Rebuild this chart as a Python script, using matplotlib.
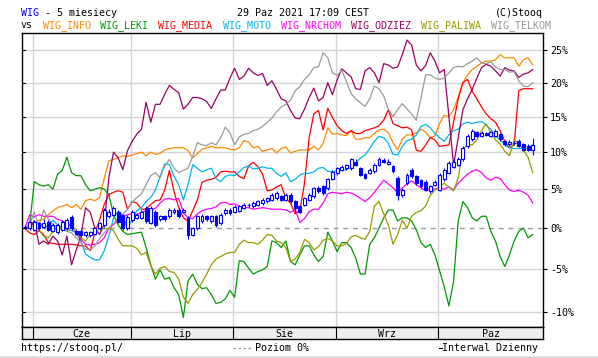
import numpy as np
import matplotlib
matplotlib.use("Agg")
import matplotlib.pyplot as plt
import matplotlib.transforms as mtransforms

# ---- data: % change vs first session, one value per trading day ----
wig_info = [0, 0.3, 0.7, 1.0, 1.1, 1.7, 2.2, 2.6, 2.8, 3.0, 2.6, 3.0, 2.4, 3.5, 3.7, 3.5, 3.9, 6.4, 8.8, 9.0, 9.2, 9.5, 9.4,
            9.6, 9.8, 10.0, 9.5, 10.0, 9.7, 9.8, 10.3, 10.5, 10.6, 10.6, 10.6, 10.2, 9.2, 9.8, 10.4, 10.6, 10.8, 10.6, 10.6, 10.6, 10.4, 10.3,
            10.6, 11.6, 11.4, 10.6, 10.8, 10.1, 10.3, 10.5, 9.9, 10.5, 10.7, 9.9, 10.1, 10.3, 10.3, 10.3, 10.8, 10.3, 11.2, 13.4, 12.5, 12.6, 12.4,
            12.3, 13.0, 11.8, 11.8, 12.0, 12.0, 12.6, 13.1, 13.2, 12.7, 11.3, 10.3, 11.8, 12.4, 12.4, 12.7, 13.2, 12.8, 12.0, 12.3, 14.0, 15.2,
            15.0, 16.0, 17.9, 20.0, 21.2, 22.0, 22.5, 23.0, 23.3, 23.3, 23.5, 24.3, 23.8, 23.8, 23.8, 22.5, 23.5, 23.8, 22.7]
wig_leki = [0, 0.4, 6.0, 5.6, 5.4, 5.6, 5.0, 7.0, 7.5, 9.3, 7.2, 6.8, 6.8, 5.6, 4.8, 5.0, 5.2, 5.0, 4.3, 1.7, 0.4, -0.4, -0.8,
            -0.7, -0.6, -0.5, -2.4, -4.5, -6.2, -5.1, -6.2, -6.0, -7.2, -8.0, -10.6, -6.4, -5.6, -6.8, -7.3, -7.2, -8.0, -9.0, -8.9, -8.5, -7.5, -8.3,
            -4.0, -4.1, -4.9, -5.6, -5.3, -5.1, -4.7, -1.6, -1.8, -2.4, -1.6, -4.1, -4.5, -3.3, -2.2, -2.2, -3.3, -4.1, -3.5, -0.5, -1.6, -2.9, -1.8,
            -1.8, -2.4, -3.7, -5.6, -5.6, -2.0, -1.2, 0, 1.3, 2.3, 2.3, 0.9, 1.3, 1.3, 0.9, -0.2, -1.8, -2.4, -2.0, -3.3, -5.2, -7.1,
            -9.3, -6.5, 0.9, 3.4, 2.6, 1.3, 0.9, 1.5, 1.5, -0.4, -1.6, -3.5, -4.7, -3.3, -1.6, -0.4, 0, -1.2, -0.8]
wig_media = [0, -0.6, -0.8, -0.3, -0.8, -1.8, -1.9, -2.0, -2.0, -2.0, -2.0, -2.1, -2.2, -2.2, -2.8, -0.6, 1.0, 3.0, 4.3, 4.6, 4.8, 4.6, 2.4,
             3.4, 3.2, 2.4, 2.4, 3.0, 3.5, 3.6, 4.9, 7.5, 4.7, 2.6, 1.3, 0.9, 2.2, 3.6, 5.9, 6.2, 6.3, 6.6, 7.3, 7.4, 7.3, 7.3,
             6.7, 6.4, 8.1, 8.6, 8.0, 7.0, 4.8, 4.9, 5.3, 5.6, 3.8, 3.2, 1.8, 2.2, 5.8, 12.0, 15.4, 15.9, 13.1, 16.2, 14.9, 13.7, 13.0,
             12.6, 13.0, 12.6, 12.6, 13.0, 13.2, 13.4, 13.7, 14.5, 16.0, 14.0, 13.7, 13.4, 13.5, 13.1, 10.3, 10.1, 11.0, 12.0, 11.7, 10.8, 10.9,
             11.0, 14.2, 17.6, 20.0, 20.5, 18.7, 17.6, 16.4, 15.4, 14.7, 14.2, 13.0, 11.5, 10.6, 11.0, 18.8, 19.1, 19.1, 19.1]
wig_moto = [0, 0.4, 0.8, 0.6, 0.2, 0.2, 1.0, 0.4, 0.0, -0.2, -0.3, -0.6, -1.6, -3.2, -3.6, -3.9, -3.9, -2.8, -1.0, 1.3, 2.1, 1.6, 0,
            1.1, 2.2, 2.6, 3.4, 3.9, 4.9, 6.7, 8.4, 8.3, 6.7, 5.6, 3.6, 5.6, 8.3, 7.8, 7.3, 7.6, 7.8, 6.4, 6.0, 6.7, 6.9, 6.8,
            7.3, 7.9, 8.1, 7.7, 7.8, 8.0, 7.8, 7.8, 7.1, 6.7, 7.2, 6.0, 6.3, 6.9, 7.1, 7.1, 7.3, 7.8, 7.9, 7.4, 7.3, 7.5, 7.6,
            7.6, 7.9, 8.5, 9.2, 9.6, 10.5, 11.5, 12.2, 12.0, 11.2, 9.7, 9.6, 10.8, 11.6, 11.8, 12.4, 13.6, 13.9, 13.4, 12.6, 12.0, 11.5,
            12.4, 13.0, 13.2, 14.0, 14.2, 14.0, 14.2, 14.3, 13.8, 13.2, 12.2, 11.8, 11.0, 10.6, 10.5, 10.5, 10.5, 10.5, 11.0]
wig_nrchom = [0, 1.7, 1.4, 1.7, 1.5, 1.5, 1.5, 1.1, 0.9, 0.6, 0.2, -0.6, -1.4, -2.0, -2.1, -2.0, -1.8, -1.2, 0, 0.5, 1.1, 1.4, 1.7,
              1.8, 1.7, 2.0, 2.2, 2.3, 2.5, 3.2, 3.7, 3.8, 3.6, 3.8, 2.0, 1.3, 1.2, 1.8, 2.2, 2.4, 2.5, 2.7, 3.2, 3.3, 3.0, 3.1,
              2.8, 2.6, 2.6, 2.4, 2.5, 2.6, 2.5, 2.4, 2.4, 2.4, 2.3, 2.0, 2.4, 0.7, 1.2, 2.1, 2.4, 2.4, 3.2, 4.4, 4.6, 4.5, 4.4,
              4.6, 4.5, 4.2, 3.8, 3.4, 3.9, 4.6, 5.4, 6.2, 5.7, 5.2, 4.5, 5.2, 5.7, 6.1, 5.6, 5.2, 4.8, 5.0, 5.0, 5.2, 5.0,
              5.3, 4.9, 5.8, 6.4, 7.0, 7.4, 7.6, 7.2, 6.5, 6.2, 6.6, 6.4, 5.6, 4.9, 4.7, 4.9, 4.6, 4.2, 3.2]
wig_odziez = [0, 0, 0.9, -2.0, -1.6, -2.0, -1.0, -1.6, -3.3, -1.0, -4.5, -2.7, -1.0, 2.6, 2.0, 0.0, -0.8, 0.5, 6.5, 10.0, 9.2, 7.6, 10.2,
              11.5, 12.5, 13.2, 17.1, 14.2, 16.8, 16.8, 18.3, 19.6, 19.0, 18.5, 16.1, 16.8, 17.8, 17.8, 17.6, 17.2, 16.2, 17.6, 18.9, 18.9, 20.7, 22.2,
              20.5, 21.0, 22.2, 21.5, 21.1, 21.4, 19.6, 20.3, 19.0, 17.6, 17.3, 15.9, 14.8, 14.7, 16.1, 17.8, 19.2, 17.3, 17.8, 20.0, 18.2, 20.4, 22.1,
              21.5, 20.9, 19.1, 19.0, 21.8, 22.3, 21.5, 20.0, 22.9, 22.7, 22.2, 22.4, 24.3, 26.6, 25.8, 22.7, 21.8, 22.6, 24.6, 23.3, 21.5, 22.0,
              15.0, 8.2, 12.0, 16.0, 17.6, 19.0, 20.7, 22.3, 22.8, 22.5, 21.8, 21.0, 22.3, 21.9, 21.8, 20.8, 21.3, 21.5, 22.0]
wig_paliwa = [0, 0.3, 0.2, -0.2, -1.0, -1.2, -0.4, 0.2, 0, -0.2, 0, -0.4, -1.2, -1.6, -0.8, -0.8, 0, -0.1, 0, -0.3, -1.4, -2.2, -2.2,
              -2.2, -2.5, -3.3, -3.0, -4.6, -5.6, -4.9, -4.7, -5.3, -5.4, -6.2, -8.3, -9.0, -8.0, -7.4, -6.6, -5.6, -4.5, -3.8, -3.5, -3.2, -3.0, -3.0,
              -2.0, -1.5, -1.8, -1.8, -2.0, -1.5, -0.8, -0.9, -1.6, -1.8, -2.4, -4.1, -3.8, -3.0, -1.4, -1.8, -2.7, -2.3, -1.5, -1.3, -1.6, -2.2, -2.2,
              -1.9, -1.1, -0.9, -1.2, -1.4, -0.4, 2.8, 3.4, 1.8, 0.4, -2.0, -0.8, 1.0, 0, 1.5, 2.0, 2.2, 2.8, 4.2, 4.9, 5.3, 5.8,
              5.3, 4.8, 6.5, 10.3, 11.1, 11.0, 11.7, 13.0, 14.0, 12.7, 11.7, 11.1, 10.1, 9.5, 11.7, 11.2, 10.3, 9.3, 7.2]
wig_telkom = [0, 0.5, 2.0, 0.3, 2.3, 1.2, 0.4, 0.2, -0.2, -0.4, -0.6, -1.2, -1.8, -2.6, -2.7, -2.2, -1.3, -0.6, 0, 0.4, 1.0, 1.8, 2.4,
              3.3, 3.9, 4.4, 5.6, 6.8, 7.2, 6.5, 8.1, 9.0, 7.8, 7.2, 7.5, 7.8, 9.4, 11.3, 11.0, 10.9, 11.3, 11.0, 12.0, 13.5, 12.7, 11.0,
              12.1, 12.5, 12.6, 13.0, 13.2, 13.6, 14.2, 14.8, 15.7, 16.4, 16.8, 17.4, 18.8, 19.4, 20.5, 21.2, 22.3, 22.4, 24.6, 23.8, 21.5, 21.1, 21.9,
              20.2, 18.4, 17.6, 17.0, 16.5, 17.6, 19.5, 19.1, 18.0, 16.1, 15.0, 16.0, 16.9, 16.1, 15.4, 14.5, 17.7, 21.2, 21.2, 20.7, 20.5, 20.7,
              21.5, 22.3, 22.5, 22.4, 22.9, 23.3, 23.8, 23.0, 22.9, 23.2, 22.4, 22.0, 22.0, 21.6, 21.7, 20.3, 19.5, 19.4, 20.0]

# WIG daily candles (open / close / high / low, % vs start)
wig_open = [0.0, 0.0, -0.2, 0.6, 0.2, 0.8, -0.3, -0.5, -0.2, 0.0, 1.4, -0.3, -0.3, -0.9, -0.9, -0.7, 0.0, 0.4, 1.5, 1.7, 2.1, 1.6, 0.0,
            1.0, 1.3, 1.3, 2.6, 0.7, 2.1, 1.1, 1.5, 1.5, 2.0, 2.3, 2.1, 1.3, -0.8, 0.0, 0.9, 1.5, 0.9, 1.5, 0.6, 1.9, 2.3, 2.1,
            2.2, 2.6, 3.0, 2.8, 3.0, 3.2, 3.4, 3.6, 3.8, 4.1, 3.6, 4.3, 3.4, 2.8, 3.0, 3.6, 4.1, 5.1, 5.4, 5.1, 6.4, 7.1, 7.6,
            7.8, 7.8, 8.7, 7.8, 7.0, 7.2, 7.4, 8.3, 8.9, 8.4, 8.1, 6.5, 4.2, 5.8, 7.6, 6.7, 6.2, 6.0, 4.7, 5.6, 4.9, 6.3,
            7.2, 8.0, 8.3, 9.0, 10.8, 11.8, 12.8, 12.3, 12.6, 12.3, 12.3, 12.5, 11.5, 11.1, 11.3, 11.6, 11.1, 10.9, 10.3]
wig_close = [0.2, 0.8, 0.8, 0.0, 0.7, -0.2, 0.4, 0.4, 0.8, 1.0, 0.0, -0.7, -0.9, -0.5, -0.5, 0.0, 0.6, 2.3, 2.1, 2.5, 0.8, 0.0, 1.4,
             2.1, 1.7, 2.1, 0.9, 2.6, 0.4, 1.5, 1.1, 2.3, 2.3, 1.5, 2.3, -0.8, 0.0, 1.5, 1.5, 1.1, 1.5, 0.4, 1.7, 2.3, 1.9, 2.7,
             2.8, 3.0, 2.9, 3.2, 3.4, 3.6, 3.8, 4.3, 4.5, 3.6, 4.3, 3.4, 2.6, 2.1, 3.8, 4.3, 5.1, 4.7, 4.5, 6.3, 7.3, 7.8, 8.0,
             8.2, 9.0, 8.3, 6.9, 6.5, 7.6, 8.3, 9.0, 8.7, 8.7, 7.4, 4.2, 4.9, 6.9, 6.7, 5.8, 5.4, 4.9, 5.4, 6.0, 6.9, 7.6,
             8.5, 8.6, 9.0, 10.6, 12.3, 13.0, 12.3, 12.7, 12.4, 12.8, 13.0, 11.8, 11.1, 11.4, 11.2, 10.9, 10.3, 10.3, 11.0]
wig_high = [0.4, 1.0, 1.0, 0.8, 1.2, 1.0, 0.6, 0.6, 1.0, 1.3, 1.6, -0.1, -0.1, -0.3, -0.3, 0.2, 0.8, 2.5, 2.4, 2.8, 2.3, 1.8, 1.6,
            2.3, 1.9, 2.3, 2.8, 2.8, 2.3, 1.7, 1.7, 2.5, 2.6, 2.5, 2.6, 1.5, 0.2, 1.7, 1.8, 1.7, 1.7, 1.7, 1.9, 2.5, 2.5, 2.9,
            3.0, 3.2, 3.2, 3.4, 3.6, 3.8, 4.0, 4.5, 4.7, 4.3, 4.5, 4.5, 3.6, 3.0, 4.0, 4.5, 5.3, 5.4, 5.6, 6.5, 7.5, 8.0, 8.2,
            8.4, 9.2, 9.0, 8.0, 7.2, 7.8, 8.5, 9.3, 9.2, 9.0, 8.3, 6.7, 5.1, 7.1, 7.8, 6.9, 6.4, 6.2, 5.6, 6.2, 7.1, 7.8,
            8.8, 9.0, 9.3, 10.8, 12.5, 13.2, 13.0, 12.9, 12.8, 13.0, 13.2, 12.7, 11.7, 11.7, 11.6, 11.8, 11.3, 11.1, 12.0]
wig_low = [-0.1, -0.2, -0.4, -0.2, 0.0, -0.4, -0.5, -0.7, -0.4, -0.2, -0.2, -0.9, -1.1, -1.1, -1.1, -0.9, -0.2, 0.2, 1.3, 1.5, 0.6, -0.2, -0.2,
           0.8, 1.1, 1.1, 0.7, 0.5, 0.2, 0.9, 0.9, 1.3, 1.8, 1.3, 1.9, -1.3, -1.0, -0.2, 0.7, 0.9, 0.7, 0.2, 0.4, 1.7, 1.7, 1.9,
           2.0, 2.4, 2.7, 2.6, 2.8, 3.0, 3.2, 3.4, 3.6, 3.4, 3.4, 3.2, 1.9, 1.9, 2.8, 3.4, 3.9, 4.5, 4.3, 4.9, 6.2, 6.9, 7.4,
           7.6, 7.6, 8.1, 6.7, 6.3, 7.0, 7.2, 8.1, 8.5, 8.2, 7.2, 3.6, 4.0, 5.6, 6.5, 5.6, 5.2, 4.7, 4.5, 5.4, 4.7, 6.1,
           7.0, 7.8, 8.1, 8.8, 10.6, 11.6, 12.1, 12.1, 12.2, 12.1, 12.1, 11.6, 10.9, 10.9, 11.0, 10.7, 10.1, 10.1, 9.6]

series_names = ["WIG_INFO", "WIG_LEKI", "WIG_MEDIA", "WIG_MOTO", "WIG_NRCHOM", "WIG_ODZIEZ", "WIG_PALIWA", "WIG_TELKOM"]
series_vals = [wig_info, wig_leki, wig_media, wig_moto, wig_nrchom, wig_odziez, wig_paliwa, wig_telkom]
series_colors = ["#ff8800", "#009900", "#ff0000", "#00b4f0", "#ff00ff", "#990066", "#999900", "#999999"]
label_x = [42.7, 100, 158, 223, 281, 350.7, 420.7, 490.7]   # pixel positions of legend words

month_names = ["Cze", "Lip", "Sie", "Wrz", "Paz"]
month_start = [2, 23, 45, 67, 89]    # index of first session of each month
y_levels = [-10, -5, 0, 5, 10, 15, 20, 25]

W, H = 598, 358
FONT = "DejaVu Sans Mono"
FS = 7.2


def ratio(v):
    return 1 + np.asarray(v, dtype=float) / 100.0


def fx(px):
    return px / W


def fy(py):
    return 1 - py / H


n = len(wig_close)
idx = np.arange(n)
xlim = (-0.64, 111.2)

fig = plt.figure(figsize=(W / 100, H / 100), dpi=100)
fig.patch.set_facecolor("white")

# main plot area: x 22..543, y 33..327
ax = fig.add_axes([fx(22), fy(327), (543 - 22) / W, (327 - 33) / H])
ax.set_yscale("log")
ax.set_xlim(*xlim)
ax.set_ylim(0.8834, 1.2772)
for s in ax.spines.values():
    s.set_color("black")
    s.set_linewidth(1.0)

# grid
for lv in y_levels:
    if lv != 0:
        ax.axhline(ratio(lv), color="#d4d4d4", lw=1.0, zorder=1)
bounds = [m - 0.3 for m in month_start]
for b in bounds:
    ax.axvline(b, color="#d4d4d4", lw=1.0, zorder=1)
ax.axhline(1.0, color="#999999", lw=1.0, dashes=(3.5, 3.5), zorder=1)

# comparison lines
for vals, col in zip(series_vals, series_colors):
    ax.plot(idx, ratio(vals), color=col, lw=0.9, zorder=2)

# WIG candles
o = np.array(wig_open)
c = np.array(wig_close)
up = c >= o
ax.vlines(idx, ratio(wig_low), ratio(wig_high), color="#0000ff", lw=0.8, zorder=3)
bot = ratio(np.minimum(o, c))
top = ratio(np.maximum(o, c))
ax.bar(idx[up], (top - bot)[up], bottom=bot[up], width=0.62, facecolor="white",
       edgecolor="#0000ff", linewidth=0.8, zorder=4)
ax.bar(idx[~up], (top - bot)[~up], bottom=bot[~up], width=0.62, facecolor="#0000ff",
       edgecolor="#0000ff", linewidth=0.8, zorder=4)

# y ticks on the right, little inward ticks on the left
ax.set_xticks([])
ax.set_yticks(ratio(y_levels))
ax.set_yticklabels([f"{lv}%" for lv in y_levels], fontsize=FS, family=FONT)
ax.yaxis.set_minor_locator(matplotlib.ticker.NullLocator())
ax.yaxis.tick_right()
ax.tick_params(axis="y", direction="out", length=3, width=0.8, pad=2, colors="black")
trans = mtransforms.blended_transform_factory(ax.transAxes, ax.transData)
for lv in y_levels:
    ax.plot([0, 0.006], [ratio(lv)] * 2, color="black", lw=0.8, transform=trans, zorder=5)

# month bar
mb = fig.add_axes([fx(22), fy(339), (543 - 22) / W, 12 / H])
mb.set_xlim(*xlim)
mb.set_ylim(0, 1)
mb.set_facecolor("#eeeeee")
mb.set_xticks([])
mb.set_yticks([])
for s in mb.spines.values():
    s.set_linewidth(1.0)
for b in bounds:
    mb.axvline(b, color="black", lw=0.8)
edges = bounds + [xlim[1]]
for i, name in enumerate(month_names):
    mb.text((edges[i] + edges[i + 1]) / 2, 0.45, name, ha="center", va="center",
            fontsize=FS, family=FONT)

# header
cw = 6.02
fig.text(fx(20.7), fy(16), "WIG", color="#0000ff", fontsize=FS, family=FONT, va="baseline")
fig.text(fx(20.7 + 3 * cw), fy(16), " - 5 miesiecy", color="black", fontsize=FS, family=FONT, va="baseline")
fig.text(fx(236.7), fy(16), "29 Paz 2021 17:09 CEST", color="black", fontsize=FS, family=FONT, va="baseline")
fig.text(fx(495), fy(16), "(C)Stooq", color="black", fontsize=FS, family=FONT, va="baseline")
fig.text(fx(20.7), fy(28.5), "vs", color="black", fontsize=FS, family=FONT, va="baseline")
for name, col, lx in zip(series_names, series_colors, label_x):
    fig.text(fx(lx), fy(28.5), name, color=col, fontsize=FS, family=FONT, va="baseline")

# footer
fig.text(fx(20.7), fy(351), "https://stooq.pl/", color="black", fontsize=FS, family=FONT, va="baseline")
fig.add_artist(plt.Line2D([fx(233), fx(253)], [fy(348)] * 2, color="#999999", lw=0.9, dashes=(2, 2)))
fig.text(fx(255), fy(351), "Poziom 0%", color="black", fontsize=FS, family=FONT, va="baseline")
fig.add_artist(plt.Line2D([fx(439), fx(442)], [fy(348)] * 2, color="black", lw=0.8))
fig.text(fx(442), fy(351), "Interwal Dzienny", color="black", fontsize=FS, family=FONT, va="baseline")
fig.add_artist(plt.Rectangle((0, 0), 1, 2.5 / H, transform=fig.transFigure, color="#dddddd", lw=0))

fig.savefig("out.png", dpi=100)
